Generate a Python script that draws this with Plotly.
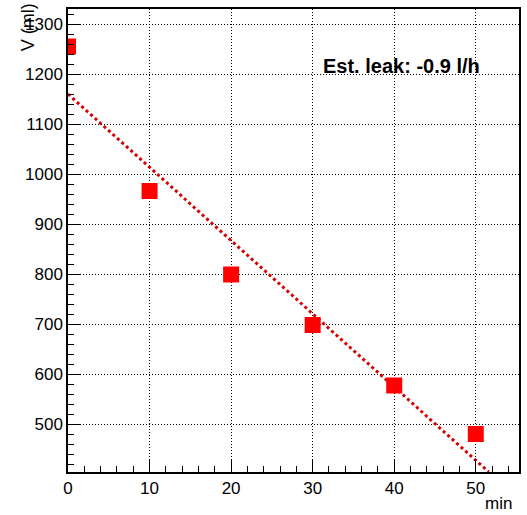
import plotly.graph_objects as go

t_min = [0, 10, 20, 30, 40, 50]
volume_ml = [1255, 966, 799, 698, 577, 480]
fit_t = [0, 51.6]
fit_v = [1160, 404]
x_ticks = [0, 10, 20, 30, 40, 50]
y_ticks = [500, 600, 700, 800, 900, 1000, 1100, 1200, 1300]
annotation_text = "Est. leak: -0.9 l/h"

FONT = "Liberation Sans, Arial, sans-serif"

fig = go.Figure()
fig.add_trace(go.Scatter(
    x=fit_t, y=fit_v, mode="lines",
    line=dict(color="#d40000", width=3, dash="dot"),
    showlegend=False, hoverinfo="skip"))
fig.add_trace(go.Scatter(
    x=t_min, y=volume_ml, mode="markers",
    marker=dict(symbol="square", size=16, color="#ff0000",
                line=dict(width=0)),
    showlegend=False))

fig.update_layout(
    width=527, height=515,
    margin=dict(l=68, r=8, t=9, b=43, autoexpand=False),
    paper_bgcolor="white", plot_bgcolor="white",
    font=dict(family=FONT, size=17, color="black"),
    xaxis=dict(
        range=[0, 55.3], tickvals=x_ticks, ticks="inside", ticklen=12,
        tickwidth=1, tickcolor="black", showline=True, linecolor="black",
        linewidth=1.5, mirror=True, showgrid=True, gridcolor="black",
        griddash="1px,2px", gridwidth=1, zeroline=False, automargin=False,
        minor=dict(dtick=2, ticks="inside", ticklen=6, tickcolor="black",
                   showgrid=False),
        tickfont=dict(size=17)),
    yaxis=dict(
        range=[404, 1330], tickvals=y_ticks, ticks="inside", ticklen=12,
        tickwidth=1, tickcolor="black", showline=True, linecolor="black",
        linewidth=1.5, mirror=True, showgrid=True, gridcolor="black",
        griddash="1px,2px", gridwidth=1, zeroline=False, automargin=False,
        minor=dict(dtick=20, ticks="inside", ticklen=6, tickcolor="black",
                   showgrid=False),
        tickfont=dict(size=17)),
    annotations=[
        dict(text="<b>" + annotation_text + "</b>", xref="x", yref="y",
             x=40.9, y=1216, showarrow=False, font=dict(size=20, family=FONT),
             xanchor="center", yanchor="middle"),
        dict(text="V (ml)", xref="paper", yref="paper", x=-0.0885, y=1.017,
             textangle=-90, showarrow=False, xanchor="center", yanchor="top",
             font=dict(size=18, family=FONT)),
        dict(text="min", xref="paper", yref="paper", x=0.954, y=-0.068,
             showarrow=False, xanchor="center", yanchor="middle",
             font=dict(size=17, family=FONT)),
    ],
)

fig.write_html("out.html", config={"displayModeBar": False})

with open("out.html", "r", encoding="utf-8") as f:
    html = f.read()
html = html.replace("<head>", "<head><style>html,body{margin:0;padding:0;overflow:hidden;}</style>", 1)
with open("out.html", "w", encoding="utf-8") as f:
    f.write(html)
